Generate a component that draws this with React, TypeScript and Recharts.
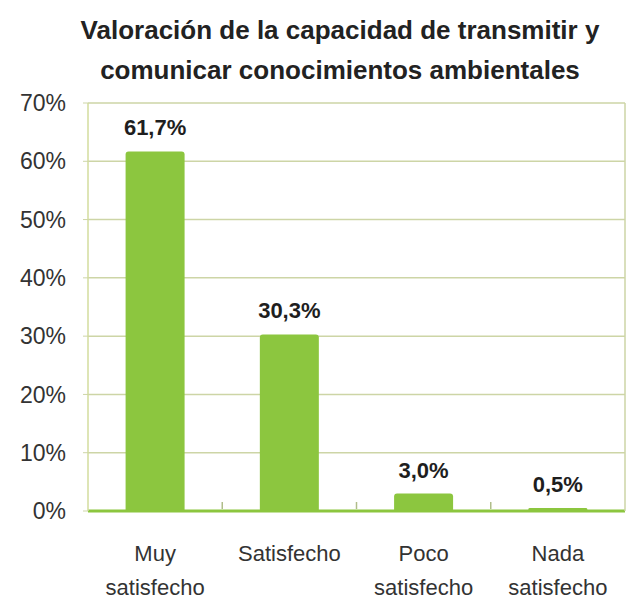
import React from 'react';
import {
  BarChart,
  Bar,
  XAxis,
  YAxis,
  CartesianGrid,
  LabelList,
} from 'recharts';

const categories = ['Muy satisfecho', 'Satisfecho', 'Poco satisfecho', 'Nada satisfecho'];
const values = [61.7, 30.3, 3.0, 0.5];
const yTicks = [0, 10, 20, 30, 40, 50, 60, 70];

const data = categories.map((name, i) => ({ name, value: values[i] }));

const FONT = '"Liberation Sans", Arial, sans-serif';

// category label in two lines, plus a small separator mark at the right edge of the band
const CategoryTick = ({ x, y, payload, index, visibleTicksCount }: any) => {
  const words = String(payload.value).split(' ');
  const half = payload.offset || 0;
  const last = index === (visibleTicksCount ?? categories.length) - 1;
  return (
    <g>
      {!last && half > 0 && (
        <line x1={x + half} x2={x + half} y1={y - 9} y2={y - 2} stroke="#b0bd8a" strokeWidth={1.5} />
      )}
      <text x={x} y={y} textAnchor="middle" fill="#333" fontSize={22} fontFamily={FONT}>
        {words.map((w, i) => (
          <tspan key={i} x={x} dy={i === 0 ? 50 : 34}>
            {w}
          </tspan>
        ))}
      </text>
    </g>
  );
};

const fmt = (v: any) => `${Number(v).toFixed(1).replace('.', ',')}%`;

export default function App() {
  return (
    <div style={{ position: 'absolute', left: 0, top: 0, width: 628, height: 603, background: '#fff' }}>
      <div
        style={{
          position: 'absolute',
          left: 40,
          top: 10,
          width: 600,
          textAlign: 'center',
          fontFamily: FONT,
          fontWeight: 'bold',
          fontSize: 26,
          lineHeight: '40px',
          color: '#222',
        }}
      >
        <div>Valoración de la capacidad de transmitir y</div>
        <div>comunicar conocimientos ambientales</div>
      </div>
      <BarChart
        width={628}
        height={603}
        data={data}
        margin={{ top: 103, right: 2, bottom: 0, left: 0 }}
        barCategoryGap="28%"
      >
        <CartesianGrid vertical={false} stroke="#cdd5a6" strokeWidth={1.5} />
        <XAxis
          dataKey="name"
          height={92}
          tick={<CategoryTick />}
          tickLine={false}
          tickSize={0}
          tickMargin={0}
          axisLine={{ stroke: '#8cc63f', strokeWidth: 3 }}
          interval={0}
        />
        <YAxis
          domain={[0, 70]}
          ticks={yTicks}
          width={88}
          tickFormatter={(v) => `${v}%`}
          tick={{ fontSize: 23, fill: '#333', fontFamily: FONT }}
          tickSize={5}
          tickMargin={17}
          tickLine={{ stroke: '#cdd5a6' }}
          axisLine={{ stroke: '#d3dc9e', strokeWidth: 1.5 }}
        />
        <YAxis
          yAxisId="right"
          orientation="right"
          width={1}
          tick={false}
          tickLine={false}
          axisLine={{ stroke: '#cdd5a6', strokeWidth: 1.5 }}
        />
        <Bar dataKey="value" fill="#8cc63f" radius={[3, 3, 0, 0]} isAnimationActive={false}>
          <LabelList
            dataKey="value"
            position="top"
            offset={16}
            formatter={fmt}
            style={{ fontSize: 22, fontWeight: 'bold', fill: '#1e1e1e', fontFamily: FONT }}
          />
        </Bar>
      </BarChart>
    </div>
  );
}
